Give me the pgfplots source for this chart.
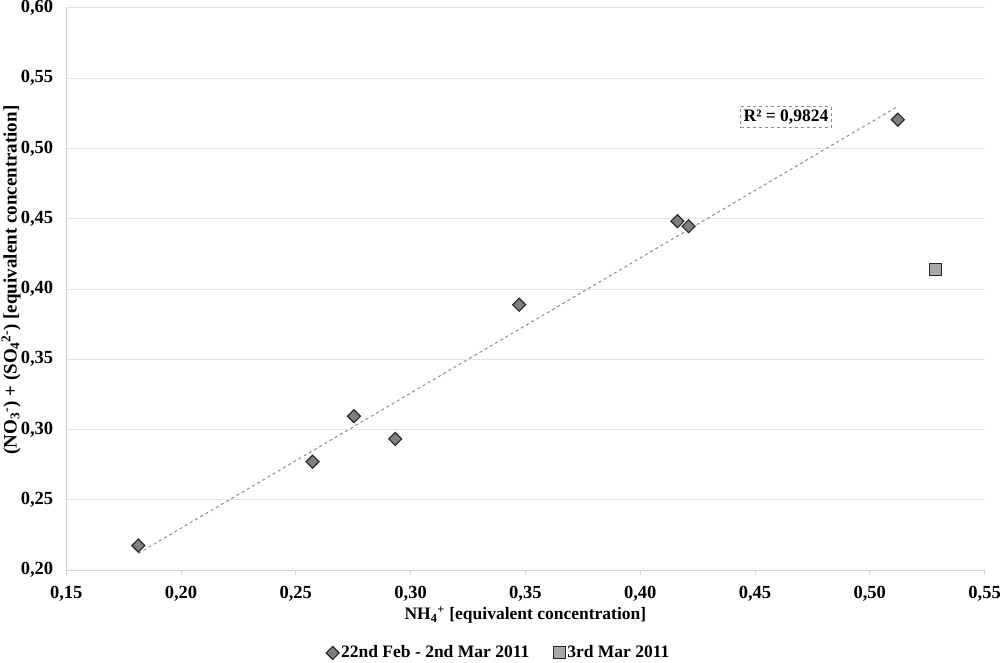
\documentclass[border=0pt]{standalone}
\usepackage{pgfplots}
\usepackage{pgfplotstable}
\usepackage{fontspec}
\setmainfont{Liberation Serif}
\pgfplotsset{compat=1.18}
\definecolor{gridc}{HTML}{E3E3E3}
\definecolor{axc}{HTML}{D5D5D5}
\definecolor{diamf}{HTML}{7F7F7F}
\definecolor{sqf}{HTML}{A8A8A8}
\definecolor{edgec}{HTML}{262626}
\definecolor{trendc}{HTML}{8C8C8C}
\pgfplotstableread{
x y
0.1814 0.2174
0.2573 0.2771
0.2753 0.3095
0.2933 0.2933
0.3473 0.3888
0.4162 0.4483
0.4211 0.4447
0.5122 0.5205
}\dataA
\pgfplotstableread{
x y
0.5285 0.4136
}\dataB
\begin{document}
\fontsize{17.5}{21}\selectfont\bfseries
\begin{tikzpicture}
\path[use as bounding box] (0,0) rectangle (1000pt,662pt);
\begin{axis}[
  at={(66.2pt,92pt)}, anchor=south west,
  scale only axis, width=918.4pt, height=562pt,
  xmin=0.15, xmax=0.55, ymin=0.20, ymax=0.60,
  xtick={0.15,0.20,...,0.55}, ytick={0.20,0.25,...,0.60},
  axis x line*=bottom, axis y line*=left,
  axis line style={draw=axc, line width=1pt},
  ymajorgrids, grid style={draw=gridc, line width=1pt},
  ytick style={draw=none},
  xtick style={draw=axc, line width=0.8pt},
  tick align=outside, major tick length=5pt,
  /pgf/number format/.cd, use comma, fixed, fixed zerofill, precision=2, assume math mode=true,
  /pgfplots/.cd,
  tick label style={font=\fontsize{18.5}{22}\selectfont\bfseries},
  x tick label style={yshift=-5pt},
  y tick label style={xshift=-2pt},
  xlabel={NH\textsubscript{4}\textsuperscript{+} [equivalent concentration]},
  ylabel={(NO\textsubscript{3}\textsuperscript{-}) + (SO\textsubscript{4}\textsuperscript{2-}) [equivalent concentration]},
  xlabel style={at={(axis description cs:0.5,-0.0797)}, anchor=center, font=\fontsize{17.5}{21}\selectfont\bfseries},
  ylabel style={at={(axis description cs:-0.0600,0.516)}, anchor=center, inner sep=0pt, font=\fontsize{19}{23}\selectfont\bfseries},
  legend style={at={(axis description cs:0.471,-0.1475)}, anchor=center, draw=none, fill=none,
    legend columns=2, font=\fontsize{17.5}{21}\selectfont\bfseries,
    /tikz/every even column/.append style={column sep=22pt}},
  legend image code/.code={\draw[#1] plot coordinates {(0.25em,0pt)};},
  clip=false,
]
\addplot[dashed, trendc, line width=1pt, forget plot] table[x=x, y={create col/linear regression={y=y}}] {\dataA};
\addplot[only marks, mark=square*, mark size=4.6pt, mark options={rotate=45, fill=diamf, draw=edgec, line width=1.1pt}] table[x=x,y=y] {\dataA};
\addlegendentry{22nd Feb - 2nd Mar 2011}
\addplot[only marks, mark=square*, mark size=6pt, mark options={fill=sqf, draw=edgec, line width=1.1pt}] table[x=x,y=y] {\dataB};
\addlegendentry{3rd Mar 2011}
\node[draw=trendc, dashed, line width=0.8pt, inner sep=3pt, fill=white, font=\fontsize{17.5}{21}\selectfont\bfseries] at (axis cs:0.4635,0.5226) {R² = 0,9824};
\end{axis}
\end{tikzpicture}
\end{document}
